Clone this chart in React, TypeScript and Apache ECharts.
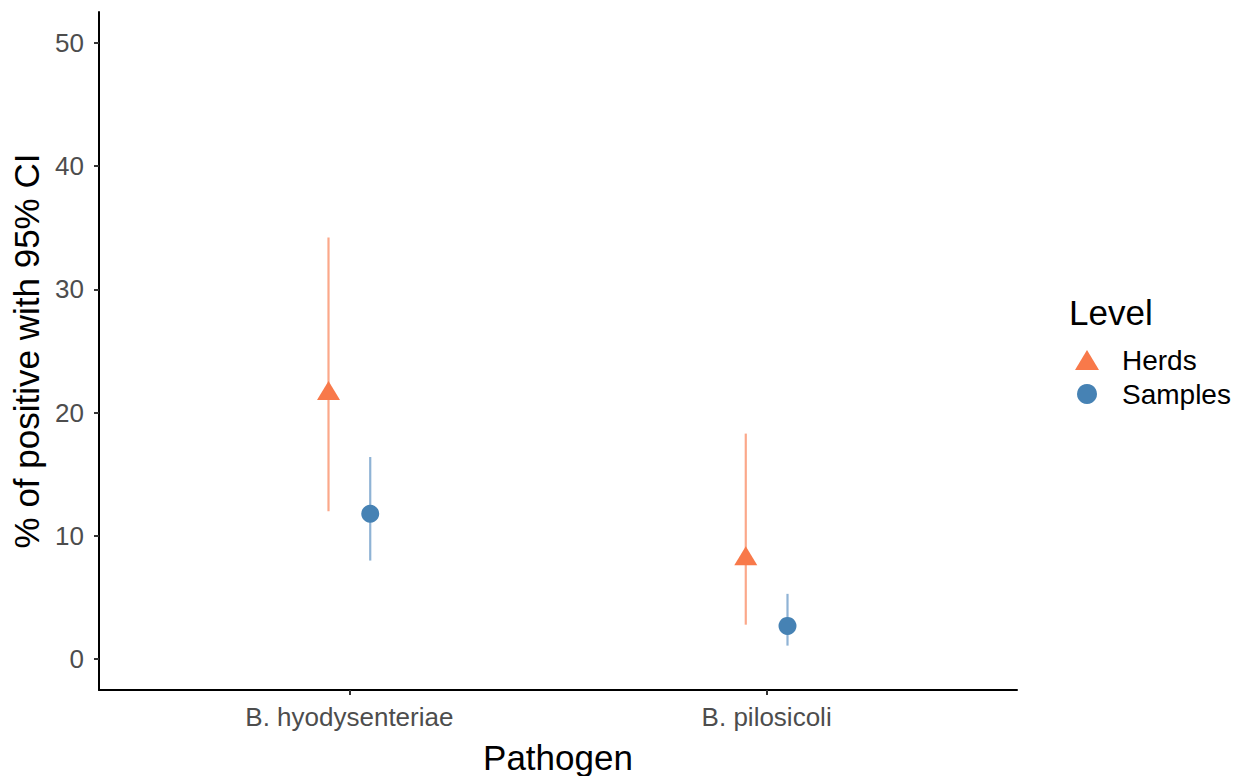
import React, { useEffect, useRef } from "react";
import * as echarts from "echarts";

const categories = ["B. hyodysenteriae", "B. pilosicoli"];
const herdsEst = [21.8, 8.4];
const herdsLow = [12.0, 2.8];
const herdsHigh = [34.2, 18.3];
const samplesEst = [11.8, 2.7];
const samplesLow = [8.0, 1.1];
const samplesHigh = [16.4, 5.3];
const yTicks = [0, 10, 20, 30, 40, 50];
const levels = ["Herds", "Samples"];

const DODGE = 0.05;
const HERD_COLOR = "#F8794A";
const HERD_LINE = "#FBA88A";
const SAMPLE_COLOR = "#4682B4";
const SAMPLE_LINE = "#8FB3D5";
const FONT = "Liberation Sans, Arial, sans-serif";

export default function App() {
  const ref = useRef<HTMLDivElement>(null);
  useEffect(() => {
    document.body.style.margin = "0";
    const chart = echarts.init(ref.current!, null, { renderer: "svg" });

    const herdPts = categories.map((_, i) => [i + 1 - DODGE, herdsEst[i]]);
    const samplePts = categories.map((_, i) => [i + 1 + DODGE, samplesEst[i]]);
    const herdBars = categories.map((_, i) => [i + 1 - DODGE, herdsLow[i], herdsHigh[i]]);
    const sampleBars = categories.map((_, i) => [i + 1 + DODGE, samplesLow[i], samplesHigh[i]]);

    const errRender = (color: string) => (params: any, api: any) => {
      const x = api.value(0);
      const p1 = api.coord([x, api.value(1)]);
      const p2 = api.coord([x, api.value(2)]);
      return {
        type: "line",
        shape: { x1: p1[0], y1: p1[1], x2: p2[0], y2: p2[1] },
        style: { stroke: color, lineWidth: 2.2 },
      };
    };

    chart.setOption({
      animation: false,
      textStyle: { fontFamily: FONT },
      grid: { left: 99, right: 222, top: 12, bottom: 86, containLabel: false, outerBoundsMode: "none" },
      xAxis: {
        type: "value",
        min: 0.4,
        max: 2.6,
        name: "Pathogen",
        nameLocation: "middle",
        nameGap: 50,
        nameTextStyle: { fontSize: 35, color: "#000", fontFamily: FONT },
        axisLine: { show: true, onZero: false, lineStyle: { color: "#000", width: 2 } },
        axisTick: { show: true, customValues: [1, 2], length: 5, lineStyle: { color: "#333", width: 2 } },
        axisLabel: {
          customValues: [1, 2],
          formatter: (v: number) => categories[Math.round(v) - 1] ?? "",
          fontSize: 26,
          color: "#4D4D4D",
          margin: 14,
          fontFamily: FONT,
        },
        splitLine: { show: false },
      },
      yAxis: {
        type: "value",
        min: -2.5,
        max: 52.5,
        name: "% of positive with 95% CI",
        nameLocation: "middle",
        nameGap: 51,
        nameRotate: 90,
        nameTextStyle: { fontSize: 35, color: "#000", fontFamily: FONT },
        axisLine: { show: true, onZero: false, lineStyle: { color: "#000", width: 2 } },
        axisTick: { show: true, customValues: yTicks, length: 5, lineStyle: { color: "#333", width: 2 } },
        axisLabel: {
          customValues: yTicks,
          fontSize: 26,
          color: "#4D4D4D",
          margin: 15,
          fontFamily: FONT,
        },
        splitLine: { show: false },
      },
      legend: {
        orient: "vertical",
        left: 1070,
        top: 341,
        itemGap: 6,
        itemWidth: 24,
        itemHeight: 20,
        textStyle: { fontSize: 28, color: "#000", fontFamily: FONT, padding: [0, 0, 0, 18] },
        data: [
          { name: levels[0], icon: "triangle", itemStyle: { color: HERD_COLOR } },
          { name: levels[1], icon: "circle", itemStyle: { color: SAMPLE_COLOR } },
        ],
      },
      graphic: [
        {
          type: "text",
          left: 1069,
          top: 295,
          style: { text: "Level", fontSize: 35, fill: "#000", fontFamily: FONT },
        },
      ],
      series: [
        {
          type: "custom",
          name: levels[0],
          renderItem: errRender(HERD_LINE),
          data: herdBars,
          itemStyle: { color: HERD_COLOR },
          encode: { x: 0, y: [1, 2] },
          z: 1,
        },
        {
          type: "custom",
          name: levels[1],
          renderItem: errRender(SAMPLE_LINE),
          data: sampleBars,
          itemStyle: { color: SAMPLE_COLOR },
          encode: { x: 0, y: [1, 2] },
          z: 1,
        },
        {
          type: "scatter",
          name: levels[0],
          symbol: "triangle",
          symbolSize: [23, 19],
          data: herdPts,
          itemStyle: { color: HERD_COLOR, opacity: 1 },
          z: 3,
        },
        {
          type: "scatter",
          name: levels[1],
          symbol: "circle",
          symbolSize: 18,
          data: samplePts,
          itemStyle: { color: SAMPLE_COLOR, opacity: 1 },
          z: 3,
        },
      ],
    });
    return () => chart.dispose();
  }, []);
  return <div ref={ref} style={{ width: 1239, height: 776 }} />;
}
